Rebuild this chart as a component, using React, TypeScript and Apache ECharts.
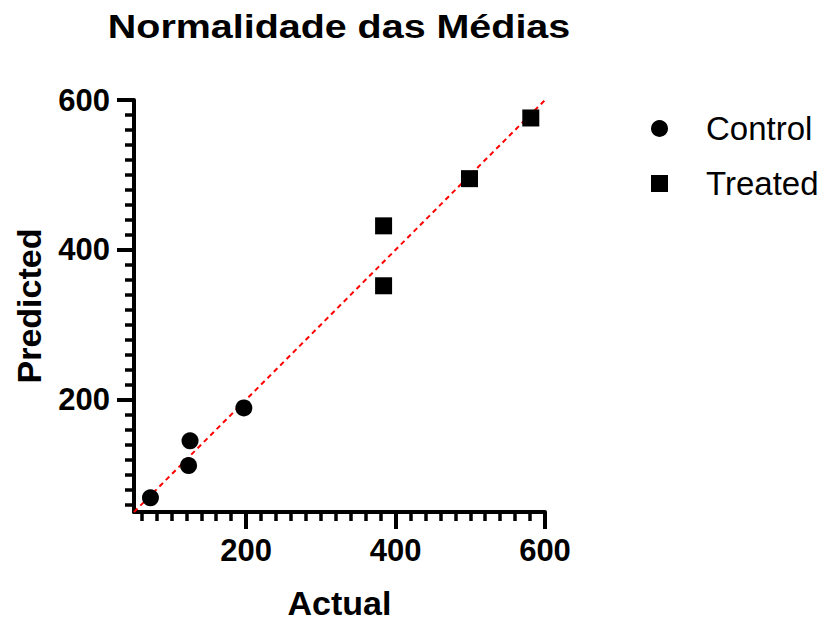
import React, { useEffect, useRef } from "react";
import * as echarts from "echarts";

const TITLE = "Normalidade das Médias";
const X_NAME = "Actual";
const Y_NAME = "Predicted";
const AXIS_MIN = 50;
const AXIS_MAX = 600;
const MAJOR_TICKS = [200, 400, 600];
const MINOR_TICKS = [60, 80, 100, 120, 140, 160, 180, 200, 220, 240, 260, 280, 300, 320, 340, 360, 380, 400, 420, 440, 460, 480, 500, 520, 540, 560, 580, 600];

const controlActual = [72, 123, 125, 197];
const controlPredicted = [69, 112, 145, 189];
const treatedActual = [384, 384, 499, 581];
const treatedPredicted = [432, 352, 495, 576];
const identityLine = [50, 600];

const FONT = "Liberation Sans, Arial, sans-serif";

export default function App() {
  const ref = useRef<HTMLDivElement>(null);
  useEffect(() => {
    if (!ref.current) return;
    const chart = echarts.init(ref.current, undefined, { renderer: "svg" });
    const majorAxis = (name: string, isY: boolean) => ({
      type: "value",
      min: AXIS_MIN,
      max: AXIS_MAX,
      name,
      nameLocation: "middle",
      nameGap: isY ? 88 : 74,
      nameTextStyle: { fontFamily: FONT, fontSize: 34, fontWeight: "bold", color: "#000" },
      axisLine: { show: true, onZero: false, lineStyle: { color: "#000", width: 4 } },
      axisTick: { show: true, inside: false, length: 17, lineStyle: { color: "#000", width: 4 }, customValues: MAJOR_TICKS },
      axisLabel: { show: true, customValues: MAJOR_TICKS, fontFamily: FONT, fontSize: 31, fontWeight: "bold", color: "#000", margin: isY ? 24 : 23 },
      splitLine: { show: false },
    });
    const minorAxis = (isY: boolean) => ({
      type: "value",
      min: AXIS_MIN,
      max: AXIS_MAX,
      position: isY ? "left" : "bottom",
      axisLine: { show: false, onZero: false },
      axisTick: { show: true, inside: false, length: 9, lineStyle: { color: "#000", width: 3.5 }, customValues: MINOR_TICKS },
      axisLabel: { show: false },
      splitLine: { show: false },
    });
    const control = controlActual.map((x, i) => [x, controlPredicted[i]]);
    const treated = treatedActual.map((x, i) => [x, treatedPredicted[i]]);
    chart.setOption({
      animation: false,
      backgroundColor: "#fff",
      graphic: [
        {
          type: "text",
          x: 339,
          y: 26,
          scaleX: 1.16,
          scaleY: 1,
          style: {
            text: TITLE,
            fontFamily: FONT,
            fontSize: 34,
            fontWeight: "bold",
            fill: "#000",
            textAlign: "center",
            textVerticalAlign: "middle",
          },
        },
      ],
      legend: {
        orient: "vertical",
        left: 646,
        top: 107,
        itemWidth: 17,
        itemHeight: 17,
        itemGap: 22,
        data: [
          { name: "Control", icon: "circle" },
          { name: "Treated", icon: "rect" },
        ],
        itemStyle: { opacity: 1, color: "#000" },
        textStyle: { fontFamily: FONT, fontSize: 33, color: "#000", padding: [0, 0, 0, 33] },
      },
      grid: { left: 134, right: 282, top: 100, bottom: 112, containLabel: false },
      xAxis: [majorAxis(X_NAME, false), minorAxis(false)],
      yAxis: [majorAxis(Y_NAME, true), minorAxis(true)],
      series: [
        {
          name: "identity",
          type: "line",
          xAxisIndex: 0,
          yAxisIndex: 0,
          data: identityLine.map((v) => [v, v]),
          symbol: "none",
          lineStyle: { color: "#ff0000", width: 2, type: [5, 4] },
          z: 1,
        },
        {
          name: "Control",
          type: "scatter",
          xAxisIndex: 0,
          yAxisIndex: 0,
          symbol: "circle",
          symbolSize: 17,
          itemStyle: { color: "#000", opacity: 1 },
          data: control,
          z: 3,
        },
        {
          name: "Treated",
          type: "scatter",
          xAxisIndex: 0,
          yAxisIndex: 0,
          symbol: "rect",
          symbolSize: 17,
          itemStyle: { color: "#000", opacity: 1 },
          data: treated,
          z: 3,
        },
      ],
    });
    return () => chart.dispose();
  }, []);
  return (
    <div
      ref={ref}
      style={{ position: "fixed", left: 0, top: 0, width: 827, height: 625, background: "#fff" }}
    />
  );
}
